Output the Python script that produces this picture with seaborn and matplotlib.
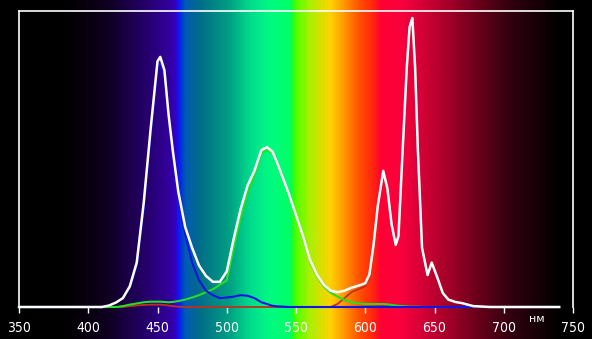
import numpy as np
import pandas as pd
import matplotlib
matplotlib.use("Agg")
import matplotlib.pyplot as plt
import seaborn as sns

# ---- data ----
wavelength = [350, 400, 410, 415, 420, 425, 430, 435, 440, 445, 450, 452, 455, 458, 461, 465,
              470, 475, 480, 485, 490, 495, 500, 505, 510, 515, 520, 525, 529, 533, 537, 541,
              545, 550, 555, 560, 565, 570, 575, 580, 585, 590, 595, 600, 603, 606, 609, 613,
              616, 619, 622, 624, 627, 630, 632, 634, 636, 638, 641, 645, 648, 652, 656, 660,
              665, 670, 678, 690, 740]
total = [0, 0, 0, 0.5, 1.5, 3, 7, 15, 35, 60, 83, 84.5, 80, 65, 53, 39,
         27, 20, 14, 10.5, 8.5, 8.5, 12, 23, 33, 41, 46, 53, 54, 52.5, 48, 43,
         38, 31, 24, 16, 11, 7.5, 5.5, 5, 5.5, 6.5, 7.2, 8, 11, 21, 34, 46,
         40, 28, 21, 24, 53, 81, 94.6, 97.6, 81, 53, 20, 10.8, 15, 10, 4.7, 2.5,
         1.7, 1.3, 0.3, 0, 0]
blue = [0, 0, 0, 0.5, 1.5, 3, 6.5, 14, 33, 58, 81, 82.5, 78, 63, 51, 37,
        24.5, 15, 9, 5.5, 4, 3, 3.2, 3.5, 4, 3.8, 3, 1.6, 1, 0.4, 0.2, 0.1,
        0, 0, 0, 0, 0, 0, 0, 0, 0, 0, 0, 0, 0, 0, 0, 0,
        0, 0, 0, 0, 0, 0, 0, 0, 0, 0, 0, 0, 0, 0, 0, 0,
        0, 0, 0, 0, 0]
green = [0, 0, 0, 0, 0, 0.3, 0.8, 1.2, 1.6, 1.8, 1.8, 1.8, 1.7, 1.6, 1.7, 2,
         2.5, 3.2, 4, 5, 6, 7.5, 9, 20, 30, 38.5, 44.5, 52, 53, 52, 47.5, 42.5,
         37.5, 30.5, 23.5, 15.5, 10.5, 7, 4.8, 3.5, 2.4, 1.6, 1.2, 1, 1, 1, 1, 1,
         0.9, 0.7, 0.5, 0.4, 0.3, 0.2, 0.1, 0.1, 0.1, 0.1, 0, 0, 0, 0, 0, 0,
         0, 0, 0, 0, 0]
red = [0, 0, 0, 0, 0, 0, 0.3, 0.5, 0.7, 0.8, 0.8, 0.8, 0.7, 0.5, 0.3, 0.1,
       0, 0, 0, 0, 0, 0, 0, 0, 0, 0, 0, 0, 0, 0, 0, 0,
       0, 0, 0, 0, 0, 0, 0, 1, 3, 5, 6, 7, 10, 20, 33, 45,
       39, 27, 20.5, 23.6, 52.7, 80.8, 94.5, 97.5, 81, 53, 20, 10.8, 15, 10, 4.7, 2.5,
       1.7, 1.3, 0.3, 0, 0]
x_ticks = [350, 400, 450, 500, 550, 600, 650, 700, 750]
unit_label = "нм"

# background spectrum stops (nm, r, g, b)
spec_nm = [336, 380, 400, 416, 430, 445, 459, 463, 465, 467, 470, 481, 502, 517, 531, 546,
           548, 550, 560, 575, 585, 596, 607, 611, 625, 640, 661, 683, 705, 726, 741, 764]
spec_rgb = [(0, 0, 0), (0, 0, 0), (8, 0, 15), (15, 0, 35), (28, 0, 75), (40, 0, 115),
            (50, 0, 160), (55, 0, 190), (20, 20, 255), (0, 50, 220), (0, 90, 180),
            (0, 110, 135), (0, 160, 130), (0, 220, 140), (0, 250, 130), (0, 255, 100),
            (40, 255, 20), (80, 255, 0), (170, 240, 0), (255, 210, 0), (255, 150, 0),
            (255, 80, 0), (255, 30, 20), (255, 0, 50), (250, 0, 60), (215, 0, 55),
            (160, 0, 40), (100, 0, 25), (50, 0, 15), (20, 0, 5), (0, 0, 0), (0, 0, 0)]

W, H = 592, 339
fig = plt.figure(figsize=(W / 100, H / 100), dpi=100, facecolor="black")

# main axes position in pixels
L, R, T, B = 19, 573, 11, 307
ax_pos = [L / W, (H - B) / H, (R - L) / W, (B - T) / H]
xmin, xmax = 350, 750
ymin, ymax = 0, 100

# full-figure background gradient aligned with the wavelength axis
nm_per_px = (xmax - xmin) / (R - L)
bg_x0 = xmin - L * nm_per_px
bg_x1 = xmin + (W - L) * nm_per_px
bg = fig.add_axes([0, 0, 1, 1], zorder=0)
bg.set_axis_off()
grid_nm = np.linspace(bg_x0, bg_x1, 1200)
stops = np.array(spec_nm, dtype=float)
rgb = np.array(spec_rgb, dtype=float) / 255.0
img = np.stack([np.interp(grid_nm, stops, rgb[:, i]) for i in range(3)], axis=-1)
bg.imshow(img[np.newaxis, :, :], aspect="auto", extent=[bg_x0, bg_x1, 0, 1],
          interpolation="bilinear")
bg.set_xlim(bg_x0, bg_x1)
bg.set_ylim(0, 1)

ax = fig.add_axes(ax_pos, zorder=1)
ax.patch.set_alpha(0)

df = pd.DataFrame({"nm": wavelength, "total": total, "blue": blue,
                   "green": green, "red": red})
series = [("red", "#c0301c", 1.3), ("green", "#22e022", 1.5),
          ("blue", "#1414e6", 1.5), ("total", "#ffffff", 1.8)]
for col, color, lw in series:
    sns.lineplot(data=df, x="nm", y=col, ax=ax, color=color, linewidth=lw,
                 estimator=None, sort=False, clip_on=False)

ax.set_xlim(xmin, xmax)
ax.set_ylim(ymin, ymax)
ax.set_xlabel("")
ax.set_ylabel("")
ax.set_yticks([])
ax.set_xticks(x_ticks)
ax.set_xticklabels([str(t) for t in x_ticks])
ax.tick_params(axis="x", colors="white", length=4, width=1, pad=6, labelsize=10)
for lab in ax.get_xticklabels():
    lab.set_family(["DejaVu Sans"])
    lab.set_fontstretch("condensed")
for side in ["top", "left", "right"]:
    ax.spines[side].set_color("white")
    ax.spines[side].set_linewidth(1.2)
ax.spines["bottom"].set_visible(False)

fig.text(537 / W, (H - 319) / H, unit_label, color="white", fontsize=8,
         ha="center", va="center", family=["DejaVu Sans"])

fig.savefig("out.png", dpi=100, facecolor="black")
